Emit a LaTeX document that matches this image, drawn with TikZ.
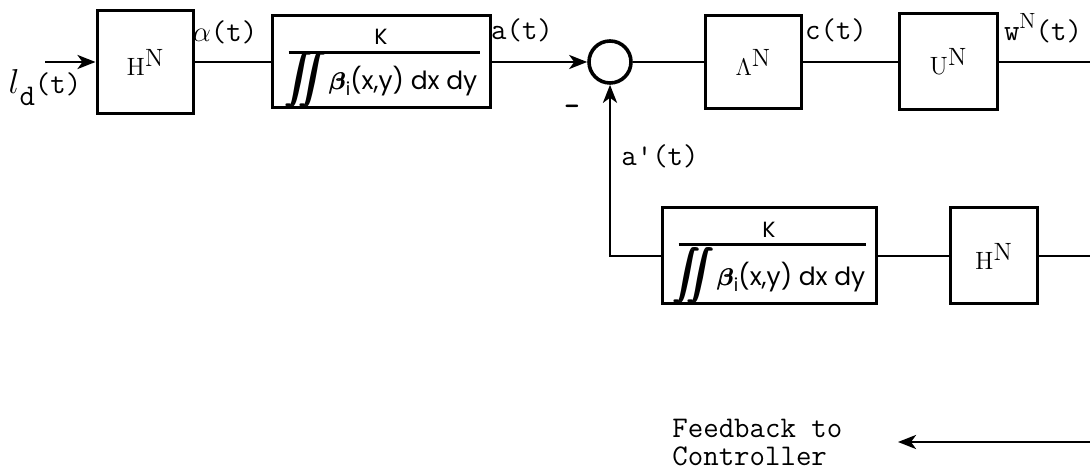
\documentclass[tikz,border=0pt]{standalone}
\usepackage{fontspec}
\usepackage{amsmath}
\usetikzlibrary{arrows.meta,calc}
\newfontfamily\geofont{Poppins}
\newcommand{\fatint}{\makebox[0pt][l]{$\displaystyle\int$}\kern0.5pt\makebox[0pt][l]{$\displaystyle\int$}\kern0.5pt\makebox[0pt][l]{$\displaystyle\int$}\kern0.5pt$\displaystyle\int$}
\newcommand{\fatbeta}{\makebox[0pt][l]{$\boldsymbol{\beta}$}\kern0.3pt$\boldsymbol{\beta}$}
\newcommand{\fracden}{{\geofont\fontsize{12.5}{12.5}\selectfont
  \raisebox{1.5pt}{\scalebox{1.05}{\fatint\kern-7pt\fatint}}\kern1pt\fatbeta\raisebox{-3pt}{\fontsize{9}{9}\selectfont i}(x,y) dx dy}}
\begin{document}
\begin{tikzpicture}[x=0.5pt,y=-0.5pt,
  blk/.style={draw, line width=1.5pt, inner sep=0pt, font=\fontsize{12.5}{12.5}\selectfont},
  wire/.style={line width=1.4pt},
  arr/.style={wire, -{Stealth[length=9pt,width=7pt,inset=2.5pt]}},
  lbl/.style={font=\fontsize{15}{15}\selectfont\ttfamily, inner sep=0pt},
  fracbar/.style={line width=1.3pt},
  knum/.style={font=\geofont\fontsize{11}{11}\selectfont, inner sep=0pt},
  den/.style={inner sep=0pt},
]
\useasboundingbox (0,0) rectangle (1090,474);

% top row
\node[blk, minimum width=48pt, minimum height=51.5pt] (hn1) at (145,62) {H\raisebox{4.5pt}{N}};
\node[blk, minimum width=109pt, minimum height=46pt] (frac1) at (381,62) {};
\node[knum] (k1) at (381,37) {K};
\node[den] (d1) at (381,80) {\fracden};
\draw[fracbar] ($(frac1.north west)+(18,38)$) -- ($(frac1.north east)+(-12,38)$);
\node[draw, circle, line width=1.8pt, minimum size=21pt, inner sep=0pt] (sum) at (610,62) {};
\node[blk, minimum width=48pt, minimum height=46.5pt] (lam) at (753,62) {$\Lambda$\raisebox{4.5pt}{N}};
\node[blk, minimum width=49pt, minimum height=48pt] (un) at (948,62) {U\raisebox{4.5pt}{N}};

% bottom row
\node[blk, minimum width=107pt, minimum height=48pt] (frac2) at (769,256) {};
\node[knum] (k2) at (769,230) {K};
\draw[fracbar] ($(frac2.north west)+(18,38)$) -- ($(frac2.north east)+(-12,38)$);
\node[den] (d2) at (769,276) {\fracden};
\node[blk, minimum width=43.5pt, minimum height=48pt] (hn2) at (993.5,256) {H\raisebox{4.5pt}{N}};

% free ends
\coordinate (in) at (45,62);
\coordinate (out) at (1090,62);
\coordinate (rin) at (1090,256);
\coordinate (fbs) at (1090,442);
\coordinate (fbe) at (898,442);

% connectors
\draw[arr] (in) -- (hn1.west);
\draw[wire] (hn1.east) -- (frac1.west);
\draw[arr] (frac1.east) -- (sum.west);
\draw[wire] (sum.east) -- (lam.west);
\draw[wire] (lam.east) -- (un.west);
\draw[wire] (un.east) -- (out);
\draw[wire] (rin) -- (hn2.east);
\draw[wire] (hn2.west) -- (frac2.east);
\draw[arr] (frac2.west) -| (sum.south);
\draw[arr] (fbs) -- (fbe);

% labels
\node[lbl] (lid) at (45,88) {\fontsize{17}{17}\selectfont$l$\raisebox{-6pt}{\fontsize{15}{15}\selectfont d}\fontsize{15}{15}\selectfont(t)};
\node[lbl] (lalpha) at (225,32) {$\alpha$(t)};
\node[lbl] (la) at (522,30) {a(t)};
\node[lbl] (lminus) at (572,110) {\textbf{-}};
\node[lbl] (lap) at (660,156) {a\textquotesingle(t)};
\node[lbl] (lc) at (836,30) {c(t)};
\node[lbl] (lw) at (1043,28) {w\raisebox{6pt}{\rmfamily\fontsize{11}{11}\selectfont N}(t)};
\node[lbl, align=left, anchor=west, font=\fontsize{15}{14}\selectfont\ttfamily] (lfb) at (672,443) {Feedback to\\Controller};
\end{tikzpicture}
\end{document}
